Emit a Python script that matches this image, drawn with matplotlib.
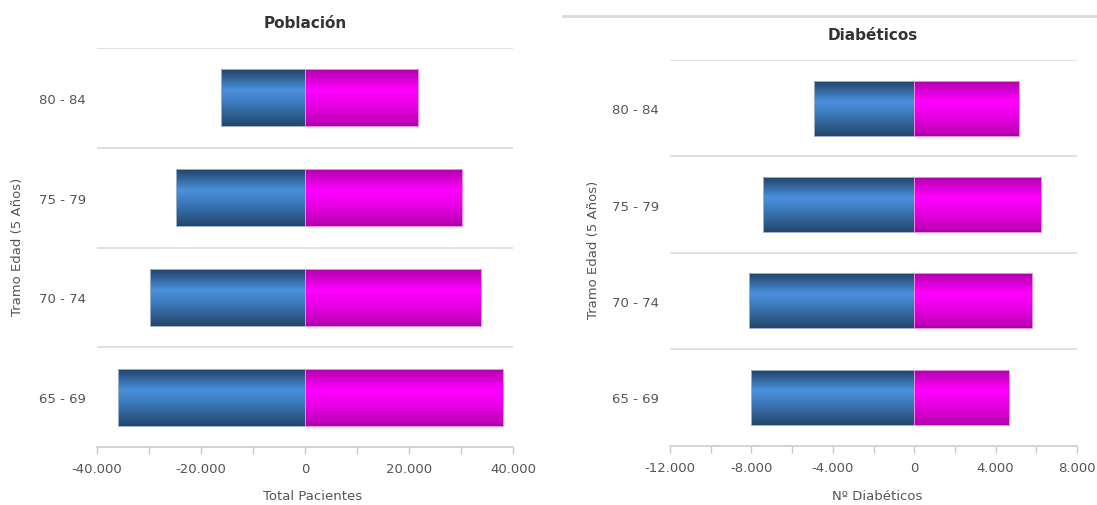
import matplotlib
matplotlib.use("Agg")
import matplotlib.pyplot as plt
import numpy as np
from matplotlib.colors import LinearSegmentedColormap
from matplotlib.ticker import FuncFormatter, MultipleLocator
from matplotlib.lines import Line2D

# Age brackets (bottom to top)
categories = ["65 - 69", "70 - 74", "75 - 79", "80 - 84"]

# Total patients: men drawn to the left (negative), women to the right
poblacion_hombres = [-36000, -29900, -24800, -16100]
poblacion_mujeres = [38000, 33800, 30200, 21800]

# Diabetic patients
diabeticos_hombres = [-8000, -8100, -7450, -4900]
diabeticos_mujeres = [4650, 5800, 6250, 5150]

FIG_W, FIG_H = 1097, 506
fig = plt.figure(figsize=(FIG_W / 100, FIG_H / 100), dpi=100)
plt.rcParams["font.family"] = ["DejaVu Sans"]

TEXT = "#555555"
GRID = "#d9d9d9"

blue_cmap = LinearSegmentedColormap.from_list(
    "blue_bar",
    [(0.0, "#21436a"), (0.12, "#2d5b8c"), (0.37, "#4a91dc"),
     (0.62, "#3a77b8"), (0.86, "#2c5886"), (1.0, "#22456b")])
pink_cmap = LinearSegmentedColormap.from_list(
    "pink_bar",
    [(0.0, "#b000a8"), (0.14, "#d000cb"), (0.37, "#ff00ff"),
     (0.65, "#e600e2"), (0.88, "#c800c2"), (1.0, "#b000a8")])
grad = np.linspace(0, 1, 256).reshape(-1, 1)


def px_rect(x0, y0, x1, y1):
    """Axes rectangle from pixel box (top-left origin)."""
    return [x0 / FIG_W, 1 - y1 / FIG_H, (x1 - x0) / FIG_W, (y1 - y0) / FIG_H]


def thousands(v, _pos=None):
    if v == 0:
        return "0"
    return f"{int(round(v)):,}".replace(",", ".")


def shaded_bars(ax, values, cmap, edge):
    ypos = np.arange(len(categories))
    bars = ax.barh(ypos, values, height=0.57, color="none",
                   edgecolor=edge, linewidth=0.7, zorder=3)
    for patch in bars:
        x0, y0 = patch.get_x(), patch.get_y()
        x1, y1 = x0 + patch.get_width(), y0 + patch.get_height()
        im = ax.imshow(grad, cmap=cmap, aspect="auto", origin="upper",
                       extent=[min(x0, x1), max(x0, x1), y0, y1], zorder=2,
                       interpolation="bilinear")
        im.set_clip_path(patch)


def pyramid(ax, men, women, xmin, xmax, major, minor):
    shaded_bars(ax, men, blue_cmap, "#9fb0c8")
    shaded_bars(ax, women, pink_cmap, "#e590e5")
    ax.set_xlim(xmin, xmax)
    ax.set_ylim(-0.5, len(categories) - 0.5)
    for y in np.arange(len(categories)) + 0.5:
        ax.axhline(y, color=GRID, linewidth=1.1, zorder=1)
    for side in ("top", "right", "left"):
        ax.spines[side].set_visible(False)
    ax.spines["bottom"].set_color("#c8c8c8")
    ax.spines["bottom"].set_linewidth(1.1)
    ax.xaxis.set_major_locator(MultipleLocator(major))
    ax.xaxis.set_minor_locator(MultipleLocator(minor))
    ax.xaxis.set_major_formatter(FuncFormatter(thousands))
    ax.tick_params(axis="x", which="both", length=5, width=1.0,
                   color="#c8c8c8", labelsize=9.5, labelcolor=TEXT, pad=6)
    ax.set_yticks(np.arange(len(categories)))
    ax.set_yticklabels(categories)
    ax.tick_params(axis="y", length=0, labelsize=9.5, labelcolor=TEXT, pad=8)


ax1 = fig.add_axes(px_rect(97, 49, 513, 448))
pyramid(ax1, poblacion_hombres, poblacion_mujeres, -40000, 40000, 20000, 10000)

ax2 = fig.add_axes(px_rect(670, 61, 1077, 446.5))
pyramid(ax2, diabeticos_hombres, diabeticos_mujeres, -12000, 8000, 4000, 2000)


def ftext(x, y, s, **kw):
    fig.text(x / FIG_W, 1 - y / FIG_H, s, **kw)


ftext(305, 24, "Población", ha="center", va="center", fontsize=11,
      fontweight="bold", color="#333333")
ftext(873, 36, "Diabéticos", ha="center", va="center", fontsize=11,
      fontweight="bold", color="#333333")
ftext(313, 497, "Total Pacientes", ha="center", va="center", fontsize=9.5,
      color=TEXT)
ftext(877, 497, "Nº Diabéticos", ha="center", va="center", fontsize=9.5,
      color=TEXT)
ftext(18, 247, "Tramo Edad (5 Años)", ha="center", va="center", rotation=90,
      fontsize=9.5, color=TEXT)
ftext(594, 250, "Tramo Edad (5 Años)", ha="center", va="center", rotation=90,
      fontsize=9.5, color=TEXT)

# Border line above the right-hand panel
fig.add_artist(Line2D([563 / FIG_W, 1.0], [1 - 17 / FIG_H, 1 - 17 / FIG_H],
                      transform=fig.transFigure, color="#dadada", linewidth=2.0))

fig.savefig("out.png", dpi=100)
